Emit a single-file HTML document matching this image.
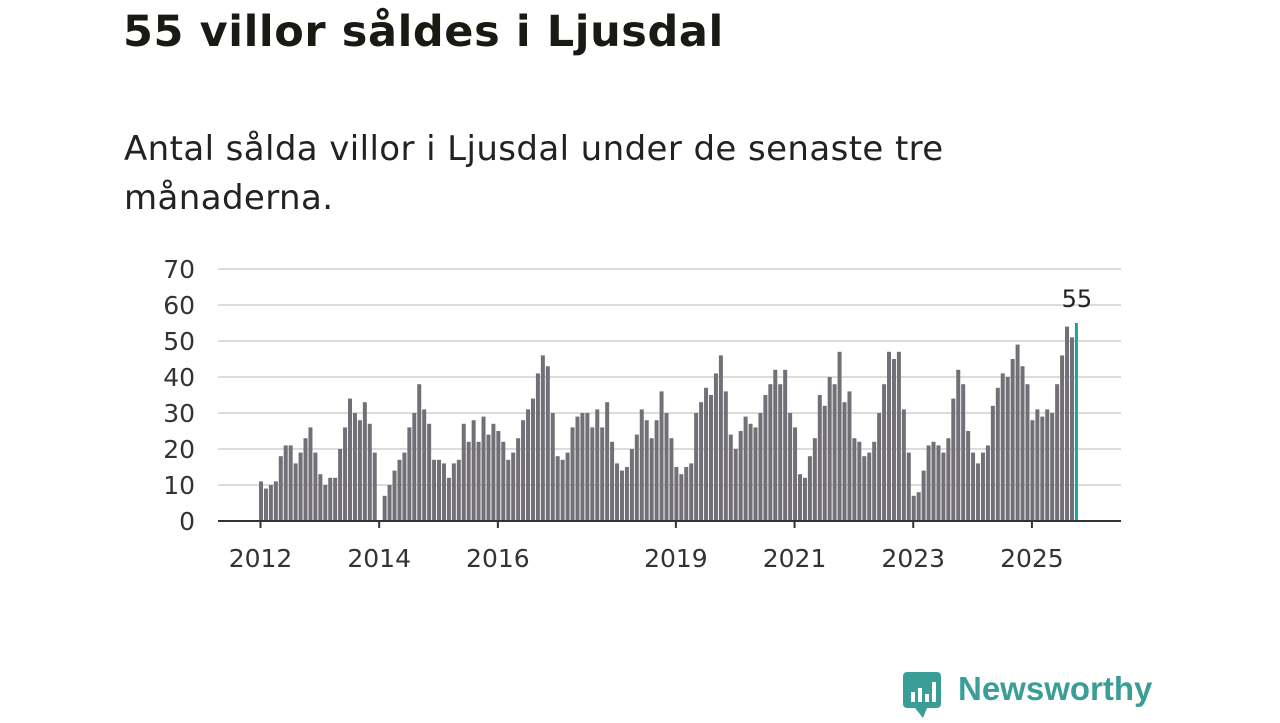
<!DOCTYPE html>
<html><head><meta charset="utf-8"><style>
body{margin:0;width:1280px;height:720px;background:#fff;font-family:"Liberation Sans","DejaVu Sans",sans-serif;overflow:hidden;position:relative}
h1{position:absolute;left:123px;top:7px;margin:0;font-size:43px;font-weight:bold;color:#1a1a14;font-family:"DejaVu Sans",sans-serif;letter-spacing:0.6px}
.sub{position:absolute;left:124px;top:125px;margin:0;font-size:34px;line-height:49px;color:#222;font-family:"DejaVu Sans",sans-serif;font-weight:normal;width:1000px;letter-spacing:0.4px}
svg{position:absolute;left:0;top:0}
</style></head><body>
<h1>55 villor såldes i Ljusdal</h1>
<div class="sub">Antal sålda villor i Ljusdal under de senaste tre<br>månaderna.</div>
<svg id="c" width="1280" height="720"></svg>
<div style="position:absolute;left:903px;top:670px;">
<svg width="40" height="48" style="position:static"><rect x="0" y="2" width="38" height="36" rx="4" fill="#3a9e96"/><path d="M12 38 L20 48 L24 38Z" fill="#3a9e96"/><rect x="8" y="22" width="4" height="10" fill="#fff"/><rect x="15" y="18" width="4" height="14" fill="#fff"/><rect x="22" y="24" width="4" height="8" fill="#fff"/><rect x="29" y="12" width="4" height="20" fill="#fff"/></svg>
<span style="position:absolute;left:55px;top:0;font-size:33px;font-weight:bold;color:#3a9e96;">Newsworthy</span>
</div>
<script>
const values=[11,9,10,11,18,21,21,16,19,23,26,19,
13,10,12,12,20,26,34,30,28,33,27,19,
0,7,10,14,17,19,26,30,38,31,27,
17,17,16,12,16,17,27,22,28,22,29,24,27,25,22,
17,19,23,28,31,34,41,46,43,30,
18,17,19,26,29,30,30,26,31,26,33,22,
16,14,15,20,24,31,28,23,28,36,30,23,
15,13,15,16,30,33,37,35,41,46,36,24,
20,25,29,27,26,30,35,38,42,38,42,30,26,
13,12,18,23,35,32,40,38,47,33,36,23,22,18,19,22,30,38,47,45,47,31,19,
7,8,14,21,22,21,19,23,34,42,38,25,19,16,19,21,32,37,41,40,45,49,43,38,28,31,29,31,30,38,46,54,51,55];
const yTicks=[0,10,20,30,40,50,60,70];
const xYears=[2012,2014,2016,2019,2021,2023,2025];
const startYear=2012;
const NS='http://www.w3.org/2000/svg';
const svg=document.getElementById('c');
const x=i=>261+i*4.945;
const y=v=>521-v*3.6;
function mk(t,a){const e=document.createElementNS(NS,t);for(const k in a)e.setAttribute(k,a[k]);svg.appendChild(e);return e;}
yTicks.forEach(v=>{
 if(v>0){const g=mk('line',{x1:218,x2:1121,y1:y(v),y2:y(v),stroke:'#dcdcdc','stroke-width':2});
 
 }
 const t=mk('text',{x:195,y:y(v)+9,'text-anchor':'end','font-size':25,fill:'#333','font-family':'DejaVu Sans, sans-serif'});
 t.textContent=v;
 
 
});
values.forEach((v,i)=>{
 const last=i===values.length-1;
 const r=mk('rect',{x:x(i)-2,y:y(v),width:last?3:4,height:v*3.6,fill:last?'#1aa59a':'#727076'});
 
 
});
const ax=mk('line',{x1:218,x2:1121,y1:521,y2:521,stroke:'#333','stroke-width':2});


xYears.forEach(yr=>{
 const xi=x((yr-startYear)*12)-0.5;
 const tk=mk('line',{x1:xi,x2:xi,y1:521,y2:528,stroke:'#333','stroke-width':2});
 
 
 const t=mk('text',{x:xi,y:567,'text-anchor':'middle','font-size':25,fill:'#333','font-family':'DejaVu Sans, sans-serif'});
 t.textContent=yr;
 
 
});
const li=values.length-1;
const lb=mk('text',{x:x(li),y:y(values[li])-16,'text-anchor':'middle','font-size':24,fill:'#222','font-family':'DejaVu Sans, sans-serif'});
lb.textContent=values[li];


</script>
</body></html>
